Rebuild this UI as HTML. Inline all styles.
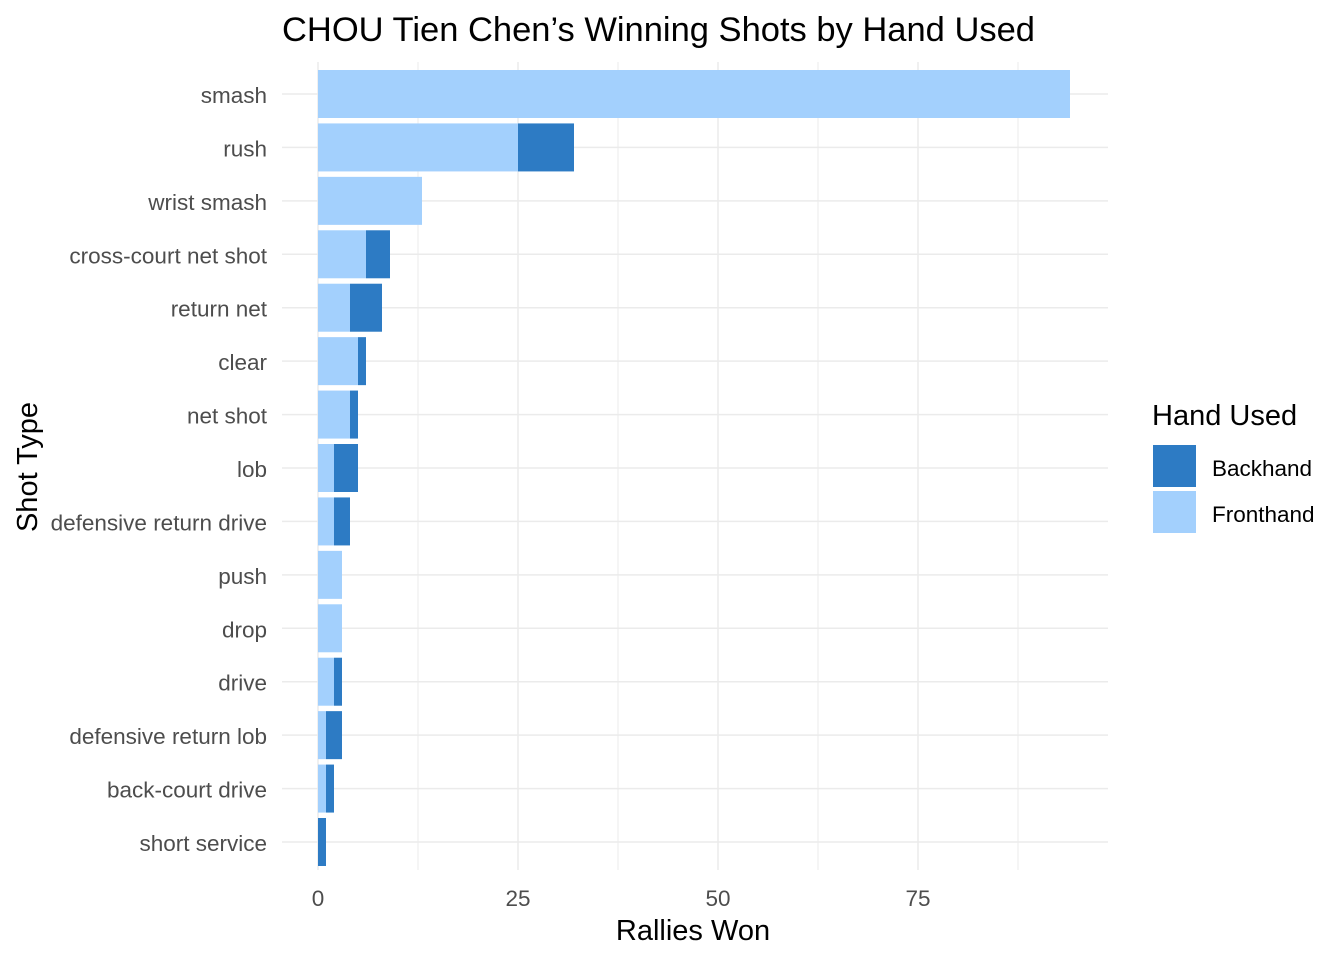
<!DOCTYPE html>
<html><head><meta charset="utf-8">
<style>
body{margin:0;background:#fff;font-family:"Liberation Sans",Arial,sans-serif;}
svg text{font-family:"Liberation Sans",Arial,sans-serif;}
</style></head>
<body>
<svg id="chart" width="1344" height="960">
<text x="282" y="41" font-size="34" fill="#000" textLength="753" lengthAdjust="spacingAndGlyphs">CHOU Tien Chen’s Winning Shots by Hand Used</text>
<g id="grid"></g>
<g id="bars"></g>
<g id="labels"></g>
<text x="693" y="940" font-size="29" text-anchor="middle" fill="#000">Rallies Won</text>
<text transform="translate(37,467) rotate(-90)" font-size="29" text-anchor="middle" fill="#000">Shot Type</text>
<g>
<text x="1152" y="425" font-size="29" fill="#000">Hand Used</text>
<rect x="1153" y="445" width="43" height="42" fill="#2D7BC4"/>
<text x="1212" y="476" font-size="22.5" fill="#000">Backhand</text>
<rect x="1153" y="491" width="43" height="42" fill="#A3D0FD"/>
<text x="1212" y="522" font-size="22.5" fill="#000">Fronthand</text>
</g>
</svg>
<script>
const categories=["smash","rush","wrist smash","cross-court net shot","return net","clear","net shot","lob","defensive return drive","push","drop","drive","defensive return lob","back-court drive","short service"];
const fronthand=[94,25,13,6,4,5,4,2,2,3,3,2,1,1,0];
const backhand=[0,7,0,3,4,1,1,3,2,0,0,1,2,1,1];
const xTicks=[0,25,50,75];
const NS="http://www.w3.org/2000/svg";
const x=v=>318+v*8;
const y0=94,step=(842-94)/14,bh=48;
const y=i=>y0+i*step;
const grid=document.getElementById('grid'),bars=document.getElementById('bars'),labels=document.getElementById('labels');
function mk(tag,attrs,parent){const e=document.createElementNS(NS,tag);for(const k in attrs)e.setAttribute(k,attrs[k]);parent.appendChild(e);return e;}
[12.5,37.5,62.5,87.5].forEach(v=>{const l=mk('line',{x1:x(v),x2:x(v),y1:62,y2:870,stroke:'#EBEBEB','stroke-width':1},grid);

});
xTicks.forEach(v=>{const l=mk('line',{x1:x(v),x2:x(v),y1:62,y2:870,stroke:'#EBEBEB','stroke-width':1.5},grid);


const t=mk('text',{x:x(v),y:906,'font-size':22.5,'text-anchor':'middle',fill:'#4D4D4D'},labels);t.textContent=v;

});
categories.forEach((c,i)=>{const l=mk('line',{x1:282,x2:1108,y1:y(i),y2:y(i),stroke:'#EBEBEB','stroke-width':1.5},grid);


const t=mk('text',{x:267,y:y(i)+9,'font-size':22.5,'text-anchor':'end',fill:'#4D4D4D'},labels);t.textContent=c;


if(fronthand[i]>0){const r=mk('rect',{x:x(0),y:y(i)-bh/2,width:x(fronthand[i])-x(0),height:bh,fill:'#A3D0FD'},bars);

}
if(backhand[i]>0){const r=mk('rect',{x:x(fronthand[i]),y:y(i)-bh/2,width:x(backhand[i])-x(0),height:bh,fill:'#2D7BC4'},bars);

}
});
</script>
</body></html>
